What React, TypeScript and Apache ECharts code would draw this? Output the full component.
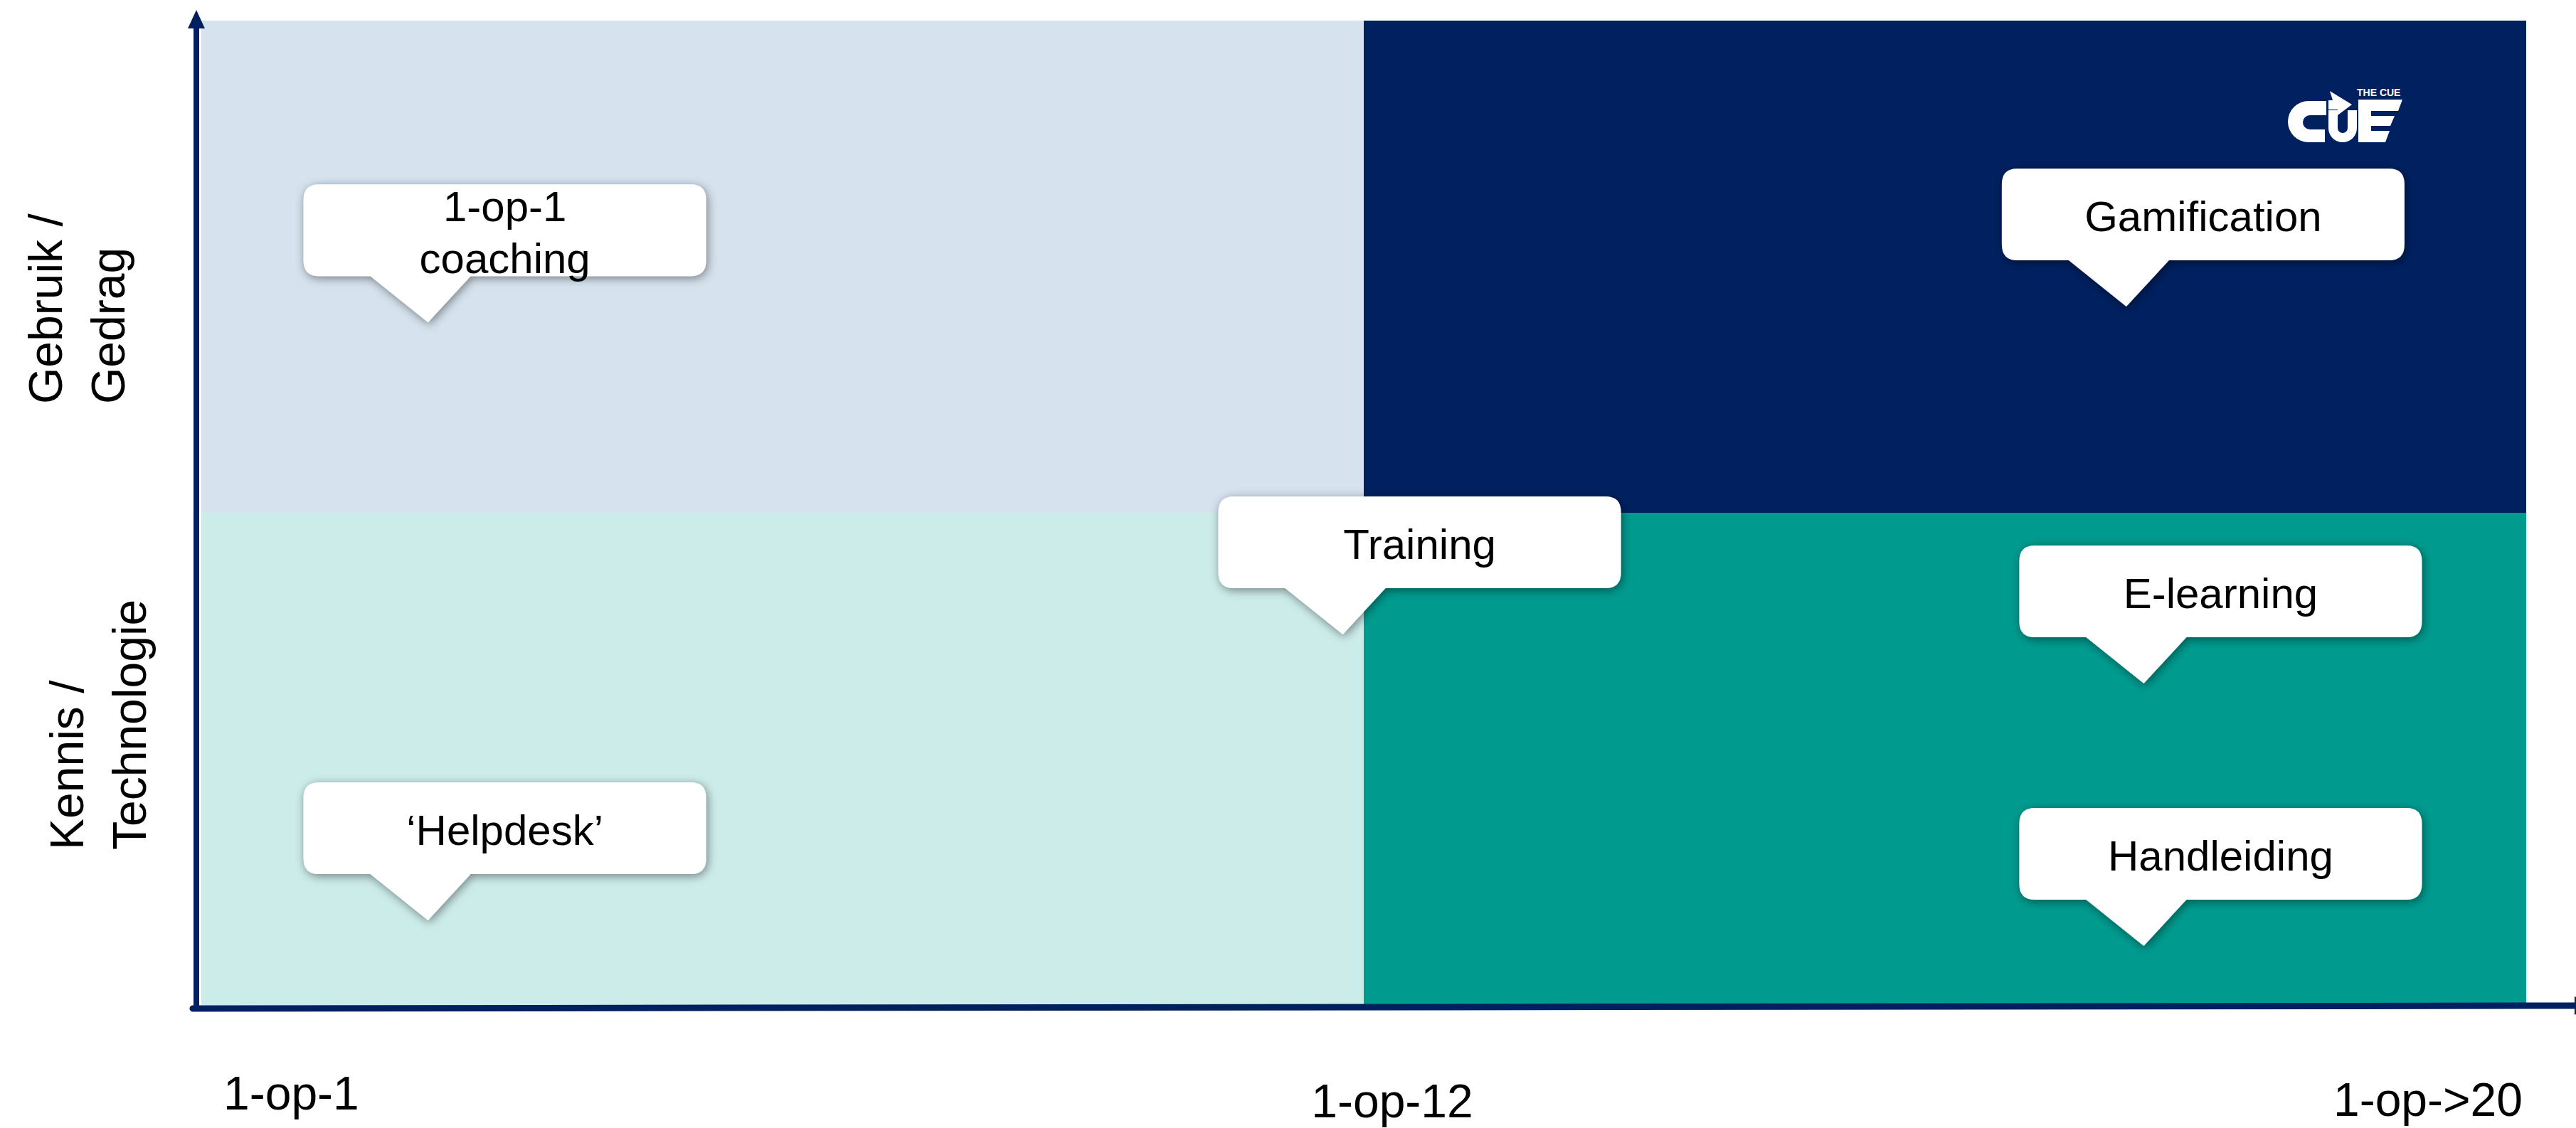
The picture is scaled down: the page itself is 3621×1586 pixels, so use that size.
import React, { useEffect, useRef } from 'react';
import * as echarts from 'echarts';

// ---------- data ----------
const quadrantNames = ['Gebruik / 1-op-1', 'Gebruik / 1-op->20', 'Kennis / 1-op-1', 'Kennis / 1-op->20'];
const quadrantXMin = [0, 1, 0, 1];
const quadrantXMax = [1, 2, 1, 2];
const quadrantYMin = [1, 1, 0, 0];
const quadrantYMax = [2, 2, 1, 1];

const calloutLabels = ['1-op-1\ncoaching', '\u2018Helpdesk\u2019', 'Training', 'Gamification', 'E-learning', 'Handleiding'];
const calloutX = [0.195, 0.195, 0.982, 1.656, 1.671, 1.671];
const calloutY = [1.387, 0.172, 0.753, 1.419, 0.653, 0.12];

const xTickValues = [0, 1, 2];
const xTickLabels = ['1-op-1', '1-op-12', '1-op->20'];

const yLabelValues = [1.5, 0.5];
const yLabelLines = [
  ['Gebruik /', 'Gedrag'],
  ['Kennis /', 'Technologie'],
];

// ---------- styles ----------
const FONT = 'Liberation Sans, Arial, Helvetica, sans-serif';
const NAVY = '#002060';
const QUAD_COLORS = ['#D6E3EE', '#002060', '#CCECEA', '#009B8F'];

const GRID = { left: 283, right: 70, top: 29, bottom: 173 };

// callout geometry relative to the tail tip (pixels)
const C_LEFT = -175;
const C_WIDTH = 566;
const C_HEIGHT = 129;
const C_TAIL_H = 65;
const C_TAIL_L = -81;
const C_TAIL_R = 60;
const C_RADIUS = 22;

// x tick label style
const X_LABEL_ALIGN = ['left', 'center', 'right'];
const X_LABEL_DX = [31, 40, -5];
const X_LABEL_DY = [124, 135, 133];

// y label style (relative to grid left / label value pixel)
const Y_LABEL_DX = [
  [-219, -131],
  [-189, -101],
];
const Y_LABEL_DY = [193, 128];

// logo path (local coords)
const LOGO_D =
  'M54,17 L29,17 A29,29 0 0 0 29,75 L52,75 L52,57 L31,57 A10,10 0 0 1 31,37 L54,37 Z ' +
  'M57,30 L70,30 L70,55 A7,7 0 0 0 84,55 L84,30 L97,30 L97,55 A20,20 0 0 1 57,55 Z ' +
  'M57,29 L57,16 L63,16 L59,3 L90,22 L66,40 L70,29 Z ' +
  'M99,15 L161,15 L155,31 L117,31 L117,38 L150,38 L144,52 L117,52 L117,59 L143,59 L137,75 L99,75 Z';

let logoRegistered = false;
function ensureLogo() {
  if (logoRegistered) return;
  echarts.graphic.registerShape('cueLogo', echarts.graphic.extendPath(LOGO_D, {}));
  logoRegistered = true;
}

function calloutPath(tx: number, ty: number) {
  const L = tx + C_LEFT;
  const R = L + C_WIDTH;
  const B = ty - C_TAIL_H;
  const T = B - C_HEIGHT;
  const r = C_RADIUS;
  const bl = tx + C_TAIL_L;
  const br = tx + C_TAIL_R;
  return (
    `M${L + r},${T} L${R - r},${T} Q${R},${T} ${R},${T + r} L${R},${B - r} Q${R},${B} ${R - r},${B} ` +
    `L${br},${B} L${tx},${ty} L${bl},${B} L${L + r},${B} Q${L},${B} ${L},${B - r} L${L},${T + r} Q${L},${T} ${L + r},${T} Z`
  );
}

export default function App() {
  const ref = useRef<HTMLDivElement>(null);

  useEffect(() => {
    if (!ref.current) return;
    ensureLogo();
    const chart = echarts.init(ref.current, null, { renderer: 'svg' });

    chart.setOption({
      animation: false,
      backgroundColor: '#ffffff',
      grid: { ...GRID, containLabel: false },
      xAxis: { type: 'value', min: 0, max: 2, show: false },
      yAxis: { type: 'value', min: 0, max: 2, show: false },
      series: [
        {
          type: 'custom',
          name: 'quadrants',
          z: 1,
          silent: true,
          data: quadrantNames.map((n, i) => ({
            name: n,
            value: [quadrantXMin[i], quadrantYMin[i], quadrantXMax[i], quadrantYMax[i]],
          })),
          encode: { x: [0, 2], y: [1, 3] },
          renderItem: (params: any, api: any) => {
            const p0 = api.coord([api.value(0), api.value(3)]);
            const p1 = api.coord([api.value(2), api.value(1)]);
            return {
              type: 'rect',
              shape: { x: p0[0], y: p0[1], width: p1[0] - p0[0], height: p1[1] - p0[1] },
              style: { fill: QUAD_COLORS[params.dataIndex] },
            };
          },
        },
        {
          type: 'custom',
          name: 'callouts',
          z: 5,
          silent: true,
          data: calloutLabels.map((l, i) => ({ name: l, value: [calloutX[i], calloutY[i]] })),
          encode: { x: 0, y: 1 },
          renderItem: (params: any, api: any) => {
            const tip = api.coord([api.value(0), api.value(1)]);
            const L = tip[0] + C_LEFT;
            const B = tip[1] - C_TAIL_H;
            const T = B - C_HEIGHT;
            return {
              type: 'group',
              children: [
                {
                  type: 'path',
                  shape: { pathData: calloutPath(tip[0], tip[1]) },
                  style: {
                    fill: '#ffffff',
                    shadowBlur: 14,
                    shadowOffsetX: 2,
                    shadowOffsetY: 3,
                    shadowColor: 'rgba(0,0,0,0.45)',
                  },
                },
                {
                  type: 'text',
                  x: L + C_WIDTH / 2,
                  y: (T + B) / 2 + 3,
                  style: {
                    text: calloutLabels[params.dataIndex],
                    fill: '#000000',
                    fontSize: 60,
                    fontFamily: FONT,
                    lineHeight: 73,
                    textAlign: 'center',
                    textVerticalAlign: 'middle',
                    align: 'center',
                    verticalAlign: 'middle',
                  },
                },
              ],
            };
          },
        },
      ],
    });

    const px = (x: number, y: number) => chart.convertToPixel({ gridIndex: 0 }, [x, y]) as number[];
    const origin = px(0, 0);
    const topLeft = px(0, 2);
    const topRight = px(2, 2);
    const gl = origin[0];
    const gb = origin[1];

    const elements: any[] = [];

    // y axis line + arrow
    const yx = gl - 7;
    elements.push({
      type: 'line',
      z: 100,
      shape: { x1: yx, y1: gb + 5, x2: yx, y2: topLeft[1] + 11 },
      style: { stroke: NAVY, lineWidth: 8 },
    });
    elements.push({
      type: 'polygon',
      z: 100,
      shape: {
        points: [
          [yx - 12, topLeft[1] + 11],
          [yx + 12, topLeft[1] + 11],
          [yx, topLeft[1] - 15],
        ],
      },
      style: { fill: NAVY },
    });

    // x axis line + arrow (extends to the page edge)
    elements.push({
      type: 'line',
      z: 100,
      shape: { x1: gl - 12, y1: gb + 5, x2: 3640, y2: gb + 1 },
      style: { stroke: NAVY, lineWidth: 9, lineCap: 'round' },
    });
    elements.push({
      type: 'polygon',
      z: 100,
      shape: {
        points: [
          [3619, gb - 12],
          [3619, gb + 14],
          [3645, gb + 1],
        ],
      },
      style: { fill: NAVY },
    });

    // x tick labels
    xTickValues.forEach((v, i) => {
      const p = px(v, 0);
      elements.push({
        type: 'text',
        z: 100,
        x: p[0] + X_LABEL_DX[i],
        y: p[1] + X_LABEL_DY[i],
        style: {
          text: xTickLabels[i],
          fill: '#000000',
          fontSize: 66,
          fontFamily: FONT,
          textAlign: X_LABEL_ALIGN[i],
          align: X_LABEL_ALIGN[i],
          textVerticalAlign: 'middle',
          verticalAlign: 'middle',
        },
      });
    });

    // y labels (rotated, two lines each)
    yLabelValues.forEach((v, i) => {
      const p = px(0, v);
      yLabelLines[i].forEach((line, j) => {
        elements.push({
          type: 'text',
          z: 100,
          x: gl + Y_LABEL_DX[i][j],
          y: p[1] + Y_LABEL_DY[i],
          rotation: Math.PI / 2,
          style: {
            text: line,
            fill: '#000000',
            fontSize: 66,
            fontFamily: FONT,
            textAlign: 'left',
            align: 'left',
            textVerticalAlign: 'middle',
            verticalAlign: 'middle',
          },
        });
      });
    });

    // logo
    const lx = topRight[0] - 335;
    const ly = topRight[1] + 96;
    elements.push({
      type: 'cueLogo',
      z: 100,
      x: lx,
      y: ly,
      style: { fill: '#ffffff' },
    });
    elements.push({
      type: 'text',
      z: 100,
      x: lx + 97,
      y: ly + 5,
      style: {
        text: 'THE CUE',
        fill: '#ffffff',
        fontSize: 14,
        fontWeight: 'bold',
        fontFamily: FONT,
        textAlign: 'left',
        align: 'left',
        textVerticalAlign: 'middle',
        verticalAlign: 'middle',
      },
    });

    chart.setOption({ graphic: { elements } });

    return () => chart.dispose();
  }, []);

  return (
    <div
      ref={ref}
      style={{ position: 'fixed', left: 0, top: 0, width: 3621, height: 1586, background: '#ffffff' }}
    />
  );
}
